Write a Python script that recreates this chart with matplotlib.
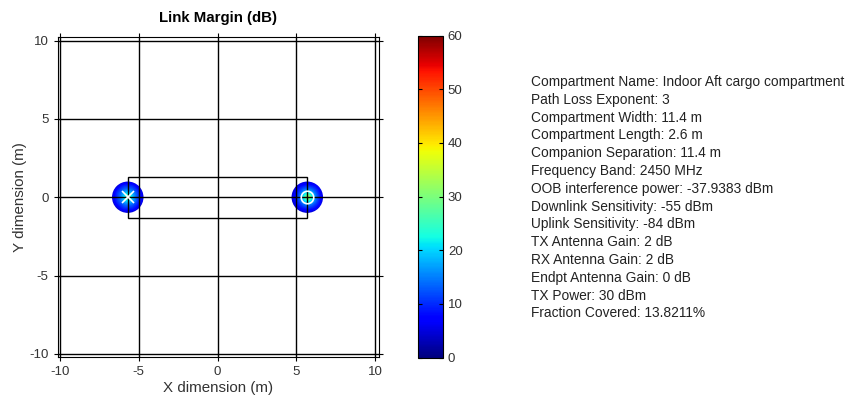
import matplotlib
matplotlib.use("Agg")
import matplotlib.pyplot as plt
import numpy as np

nan = np.nan

# link margin (dB) sampled on a 0.25 m grid around each node
tx_pos = (-5.7, 0.0)
rx_pos = (5.7, 0.0)
cell = 0.25
coverage_radius = 1.0

tx_margin = np.array([
    [nan, nan, nan, 4, 5, 4, nan, nan, nan],
    [nan, nan, 7, 9, 9, 9, 7, nan, nan],
    [nan, 7, 10, 13, 14, 13, 10, 7, nan],
    [4, 9, 13, 18, 21, 18, 13, 9, 4],
    [5, 9, 14, 21, 30, 21, 14, 9, 5],
    [4, 9, 13, 18, 21, 18, 13, 9, 4],
    [nan, 7, 10, 13, 14, 13, 10, 7, nan],
    [nan, nan, 7, 9, 9, 9, 7, nan, nan],
    [nan, nan, nan, 4, 5, 4, nan, nan, nan],
])

rx_margin = np.array([
    [nan, nan, nan, 4, 5, 4, nan, nan, nan],
    [nan, nan, 7, 8, 9, 8, 7, nan, nan],
    [nan, 7, 10, 13, 15, 13, 10, 7, nan],
    [4, 8, 13, 19, 24, 19, 13, 8, 4],
    [5, 9, 15, 24, 38, 24, 15, 9, 5],
    [4, 8, 13, 19, 24, 19, 13, 8, 4],
    [nan, 7, 10, 13, 15, 13, 10, 7, nan],
    [nan, nan, 7, 8, 9, 8, 7, nan, nan],
    [nan, nan, nan, 4, 5, 4, nan, nan, nan],
])

compartment_width = 11.4
compartment_length = 2.6

info_lines = [
    "Compartment Name: Indoor Aft cargo compartment",
    "Path Loss Exponent: 3",
    "Compartment Width: 11.4 m",
    "Compartment Length: 2.6 m",
    "Companion Separation: 11.4 m",
    "Frequency Band: 2450 MHz",
    "OOB interference power: -37.9383 dBm",
    "Downlink Sensitivity: -55 dBm",
    "Uplink Sensitivity: -84 dBm",
    "TX Antenna Gain: 2 dB",
    "RX Antenna Gain: 2 dB",
    "Endpt Antenna Gain: 0 dB",
    "TX Power: 30 dBm",
    "Fraction Covered: 13.8211%",
]

ticks = [-10, -5, 0, 5, 10]

plt.rcParams.update({
    "font.family": ["Liberation Sans", "DejaVu Sans"],
    "font.size": 9,
})

fig = plt.figure(figsize=(8.47, 4.01), dpi=100)
fig.patch.set_facecolor("white")
ax = fig.add_axes([0.0681, 0.1097, 0.3793, 0.797])

im = None
for pos, grid in [(tx_pos, tx_margin), (rx_pos, rx_margin)]:
    n = grid.shape[0]
    half = n * cell / 2
    # pad outside-of-coverage cells with the rim value so the smoothing stays blue
    im = ax.imshow(
        np.nan_to_num(grid, nan=2.0),
        cmap="jet",
        vmin=0,
        vmax=60,
        origin="upper",
        extent=(pos[0] - half, pos[0] + half, pos[1] - half, pos[1] + half),
        interpolation="bilinear",
        zorder=1,
    )
    clip = plt.Circle(pos, coverage_radius, transform=ax.transData)
    im.set_clip_path(clip)

ax.add_patch(plt.Rectangle(
    (-compartment_width / 2, -compartment_length / 2),
    compartment_width,
    compartment_length,
    fill=False,
    edgecolor="black",
    linewidth=1.0,
    zorder=3,
))

ax.plot(*tx_pos, marker="x", color="white", markersize=8, mew=1.2, zorder=4)
ax.plot(*rx_pos, marker="o", mfc="none", mec="white", markersize=9, mew=1.2, zorder=4)

ax.set_aspect("auto")
ax.set_xlim(-10.15, 10.25)
ax.set_ylim(-10.2, 10.2)
ax.set_xticks(ticks)
ax.set_yticks(ticks)
ax.set_xticklabels([str(t) for t in ticks])
ax.set_yticklabels([str(t) for t in ticks])
ax.grid(True, color="black", linewidth=1.0, zorder=2)
ax.set_axisbelow(False)
ax.tick_params(axis="both", direction="out", length=3, width=0.8, colors="black",
               labelcolor="#333333", labelsize=9.5, top=True, right=True)
for sp in ax.spines.values():
    sp.set_linewidth(0.8)
ax.set_title("Link Margin (dB)", fontsize=10.8, fontweight="bold", pad=11)
ax.set_xlabel("X dimension (m)", fontsize=10.9, color="#333333", labelpad=2)
ax.set_ylabel("Y dimension (m)", fontsize=10.9, color="#333333", labelpad=2)

cax = fig.add_axes([418 / 847, 1 - 357.5 / 401, 25 / 847, 322 / 401])
cb = fig.colorbar(im, cax=cax)
cb.set_ticks(np.arange(0, 61, 10))
cax.tick_params(direction="in", length=3, width=0.8, labelsize=9.5, labelcolor="#333333",
                left=True, right=True)
cb.outline.set_linewidth(0.8)

y0 = 82
for k, line in enumerate(info_lines):
    fig.text(531 / 847, 1 - (y0 + k * 17.8) / 401, line, fontsize=9.9,
             color="#222222", ha="left", va="center")

fig.savefig("out.png", dpi=100, facecolor="white")
